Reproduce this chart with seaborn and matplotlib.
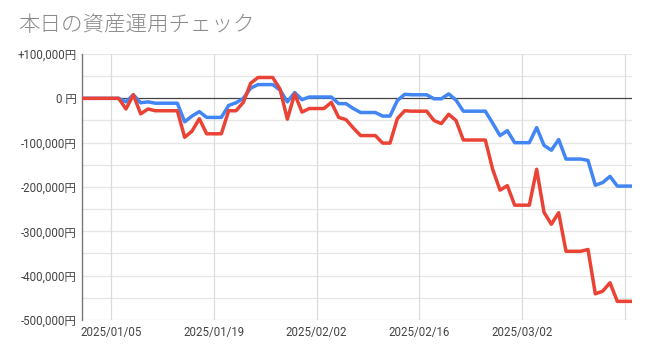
import matplotlib
matplotlib.use("Agg")
import matplotlib.pyplot as plt
import seaborn as sns
import pandas as pd
import numpy as np

# ---- data ----
start_date = "2025-01-01"
end_date = "2025-03-17"
series_names = ["系列A", "系列B"]
blue_values = [
    0, 0, 0, 0, 0, 0, -8000, 8000, -10000, -8000,
    -11000, -11000, -11000, -11000, -53000, -40000, -30000, -43000, -43000, -43000,
    -16000, -10000, 0, 23000, 31000, 31000, 31000, 19000, -8000, 13000,
    -3000, 3000, 3000, 3000, 3000, -12000, -12000, -23000, -32000, -32000,
    -32000, -40000, -40000, -5000, 9000, 8000, 8000, 8000, -1000, -1000,
    10000, -4000, -29000, -29000, -29000, -29000, -56000, -84000, -73000, -100000,
    -100000, -100000, -66000, -106000, -117000, -93000, -137000, -137000, -137000, -140000,
    -196000, -190000, -176000, -198000, -198000, -198000,
]
red_values = [
    0, 0, 0, 0, 0, 0, -24000, 8000, -35000, -24000,
    -28000, -28000, -28000, -28000, -88000, -74000, -46000, -80000, -80000, -80000,
    -28000, -28000, -9000, 34000, 47000, 47000, 47000, 21000, -47000, 10000,
    -31000, -23000, -23000, -23000, -9000, -43000, -48000, -67000, -84000, -84000,
    -84000, -101000, -101000, -46000, -28000, -29000, -29000, -29000, -50000, -57000,
    -36000, -50000, -94000, -94000, -94000, -94000, -160000, -207000, -197000, -241000,
    -241000, -241000, -160000, -257000, -284000, -258000, -345000, -345000, -345000, -341000,
    -441000, -435000, -416000, -458000, -458000, -458000,
]
y_ticks = [100000, 0, -100000, -200000, -300000, -400000, -500000]
y_tick_labels = ["+100,000円", "0 円", "-100,000円", "-200,000円", "-300,000円", "-400,000円", "-500,000円"]
x_tick_dates = ["2025-01-05", "2025-01-19", "2025-02-02", "2025-02-16", "2025-03-02", "2025-03-16"]
x_tick_labels = ["2025/01/05", "2025/01/19", "2025/02/02", "2025/02/16", "2025/03/02", ""]
title = "本日の資産運用チェック"

dates = pd.date_range(start_date, end_date, freq="D")
df = pd.concat([
    pd.DataFrame({"date": dates, "value": blue_values, "series": series_names[0]}),
    pd.DataFrame({"date": dates, "value": red_values, "series": series_names[1]}),
])

# ---- style ----
sns.set_style("white")
plt.rcParams["font.family"] = ["Roboto", "Noto Sans CJK JP", "DejaVu Sans"]

fig = plt.figure(figsize=(6.5, 3.56), dpi=100)
ax = fig.add_axes([82 / 650, 1 - 320 / 356, (632 - 82) / 650, (320 - 54) / 356])

# grid
for v in np.arange(-500000, 100001, 50000):
    if v == 0:
        continue
    ax.axhline(v, color="#e6e6e6", lw=0.9, zorder=0)
for d in x_tick_dates:
    ax.axvline(pd.Timestamp(d), color="#dcdcdc", lw=0.9, zorder=0)
ax.axhline(0, color="#444444", lw=0.9, zorder=1)

sns.lineplot(
    data=df, x="date", y="value", hue="series", hue_order=series_names,
    palette=["#4285F4", "#EA4335"], legend=False, ax=ax, linewidth=2.5,
    solid_joinstyle="round", solid_capstyle="round", zorder=3,
)

ax.set_xlim(dates[0], dates[-1])
ax.set_ylim(-500000, 100000)
ax.set_yticks(y_ticks)
ax.set_yticklabels(y_tick_labels)
ax.set_xticks([pd.Timestamp(d) for d in x_tick_dates])
ax.set_xticklabels(x_tick_labels)
ax.tick_params(axis="both", length=0, labelsize=8.3, colors="#444444")
ax.tick_params(axis="y", pad=4)
ax.tick_params(axis="x", pad=4)
ax.set_xlabel("")
ax.set_ylabel("")

for side in ["top", "right", "bottom"]:
    ax.spines[side].set_visible(False)
ax.spines["left"].set_color("#777777")
ax.spines["left"].set_linewidth(1.0)

fig.text(18 / 650, 1 - 25 / 356, title, fontsize=15.5, color="#8a8a8a",
         fontweight="light", va="center", ha="left",
         family=["Noto Sans CJK JP", "DejaVu Sans"])

fig.savefig("out.png", dpi=100)
